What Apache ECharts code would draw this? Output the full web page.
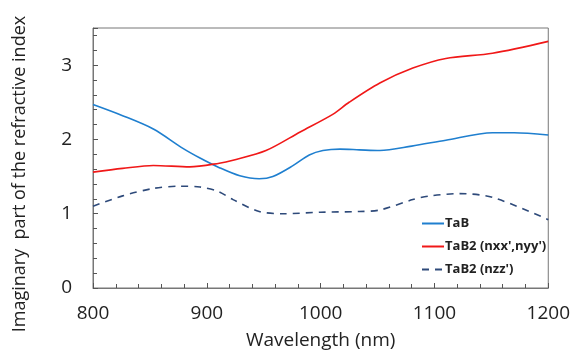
<!DOCTYPE html>
<html><head><meta charset="utf-8">
<script src="https://cdn.jsdelivr.net/npm/echarts@6/dist/echarts.min.js"></script>
<style>html,body{margin:0;padding:0;background:#fff}#c{width:573px;height:355px}</style>
</head><body><div id="c"></div>
<script>
var tabX = [800, 826, 853, 879, 894, 911, 929, 946, 958, 976, 990, 1002, 1017, 1034, 1052, 1080, 1110, 1151, 1170, 1200];
var tabY = [2.47, 2.32, 2.14, 1.88, 1.75, 1.62, 1.51, 1.47, 1.50, 1.65, 1.79, 1.85, 1.87, 1.86, 1.85, 1.91, 1.99, 2.09, 2.09, 2.06];
var xyX = [800, 826, 853, 885, 911, 923, 952, 982, 1011, 1025, 1052, 1081, 1110, 1151, 1200];
var xyY = [1.56, 1.61, 1.65, 1.63, 1.68, 1.72, 1.85, 2.10, 2.34, 2.50, 2.76, 2.96, 3.09, 3.16, 3.32];
var zzX = [800, 826, 853, 876, 894, 910, 923, 946, 967, 1000, 1034, 1052, 1081, 1096, 1122, 1151, 1200];
var zzY = [1.10, 1.24, 1.34, 1.37, 1.36, 1.30, 1.19, 1.03, 1.00, 1.02, 1.03, 1.05, 1.19, 1.24, 1.27, 1.22, 0.92];
var xTicks = [800, 900, 1000, 1100, 1200];
var seriesNames = ["TaB", "TaB2 (nxx',nyy')", "TaB2 (nzz')"];

function pairs(xs, ys){ return xs.map(function(x,i){return [x, ys[i]];}); }
var font = "Open Sans";
var chart = echarts.init(document.getElementById('c'));
chart.setOption({
  animation: false,
  textStyle: {fontFamily: font},
  grid: {left: 93, right: 24, top: 28, bottom: 65, show: true, borderColor: '#777', borderWidth: 1, backgroundColor: 'transparent'},
  legend: {
    orient: 'vertical', left: 416, top: 212, itemGap: 10, itemWidth: 22, itemHeight: 14,
    itemStyle: {opacity: 0},
    textStyle: {fontFamily: font, fontWeight: 'bold', fontSize: 13, color: '#222', padding: [0, 0, 0, -4]},
    data: seriesNames
  },
  xAxis: {
    type: 'value', min: xTicks[0], max: xTicks[xTicks.length - 1], interval: 100,
    name: 'Wavelength (nm)', nameLocation: 'middle', nameGap: 43,
    nameTextStyle: {fontFamily: font, fontSize: 19, color: '#222'},
    axisLine: {lineStyle: {color: '#777'}},
    axisTick: {inside: true, length: 5, lineStyle: {color: '#555'}},
    minorTick: {show: true, splitNumber: 5, length: 4, lineStyle: {color: '#555'}},
    splitLine: {show: false},
    axisLabel: {fontFamily: font, fontSize: 19, color: '#222', margin: 16, formatter: function(v){ return String(v); }}
  },
  yAxis: {
    type: 'value', min: 0, max: 3.5, interval: 1,
    name: 'Imaginary  part of the refractive index', nameLocation: 'middle', nameGap: 64,
    nameTextStyle: {fontFamily: font, fontSize: 18, color: '#222', padding: [0, 32, 0, 0]},
    axisLine: {lineStyle: {color: '#777'}},
    axisTick: {inside: true, length: 5, lineStyle: {color: '#555'}},
    minorTick: {show: true, splitNumber: 5, length: 4, lineStyle: {color: '#555'}},
    splitLine: {show: false},
    axisLabel: {fontFamily: font, fontSize: 19, color: '#222', margin: 21, showMaxLabel: false}
  },
  series: [
    {name: seriesNames[0], type: 'line', smooth: 0.3, symbol: 'none', data: pairs(tabX, tabY), lineStyle: {color: '#1f7fcf', width: 1.6}, itemStyle: {color: '#1f7fcf'}},
    {name: seriesNames[1], type: 'line', smooth: 0.3, symbol: 'none', data: pairs(xyX, xyY), lineStyle: {color: '#f01818', width: 1.6}, itemStyle: {color: '#f01818'}},
    {name: seriesNames[2], type: 'line', smooth: 0.3, symbol: 'none', data: pairs(zzX, zzY), lineStyle: {color: '#2e4a7a', width: 1.6, type: [7, 6]}, itemStyle: {color: '#2e4a7a'}}
  ]
});
</script></body></html>
